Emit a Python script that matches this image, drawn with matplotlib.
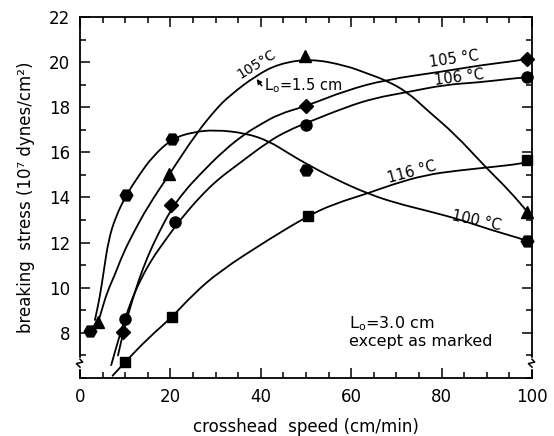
import matplotlib
matplotlib.use("Agg")
import matplotlib.pyplot as plt
from matplotlib.ticker import MultipleLocator
from matplotlib.path import Path
from matplotlib.patches import PathPatch

plt.rcParams['font.family'] = ['DejaVu Sans']

# ---- measured points ----
hex_x = [2.2, 10.2, 20.3, 50.1, 99.0]          # 100 C
hex_y = [8.1, 14.1, 16.6, 15.2, 12.05]
tri_x = [4.0, 19.8, 49.8, 99.0]                # 105 C, Lo = 1.5 cm
tri_y = [8.47, 15.06, 20.27, 13.36]
dia_x = [9.6, 20.1, 50.0, 99.0]                # 105 C
dia_y = [8.05, 13.67, 18.05, 20.15]
cir_x = [9.9, 21.0, 50.0, 99.0]                # 106 C
cir_y = [8.6, 12.9, 17.23, 19.33]
sq_x = [10.0, 20.3, 50.4, 99.0]                # 116 C
sq_y = [6.71, 8.69, 13.18, 15.64]

# ---- hand-drawn smooth curves (guide points) ----
hexc_x = [3.3, 4.4, 5.3, 6.3, 7.8, 10.2, 13.1, 16.0, 20.3, 24.9, 30.0, 36.7, 41.8, 46.2, 50.0, 56.6, 63.9, 70.0, 76.4, 83.8, 91.1, 97.7, 99.0]
hexc_y = [8.57, 9.6, 10.8, 12.1, 13.1, 14.1, 15.0, 15.8, 16.6, 16.9, 17.0, 16.85, 16.5, 15.95, 15.5, 14.8, 14.15, 13.75, 13.43, 13.04, 12.55, 12.17, 12.05]
tric_x = [4.2, 4.8, 6.0, 7.7, 9.5, 11.8, 15.0, 20.0, 25.6, 30.0, 33.0, 38.9, 44.0, 51.0, 58.8, 63.5, 67.6, 72.4, 77.2, 83.0, 89.7, 95.0, 99.0]
tric_y = [8.6, 9.0, 9.8, 10.57, 11.5, 12.43, 13.6, 15.1, 16.8, 17.9, 18.5, 19.4, 19.93, 20.15, 19.85, 19.5, 19.2, 18.68, 17.8, 16.8, 15.35, 14.3, 13.36]
diac_x = [8.4, 9.6, 11.2, 13.0, 15.0, 17.2, 20.1, 23.0, 26.4, 31.9, 36.7, 39.6, 44.0, 50.0, 58.8, 67.6, 80.8, 88.2, 97.0, 99.0]
diac_y = [7.0, 8.05, 9.2, 10.35, 11.4, 12.35, 13.45, 14.25, 15.0, 16.1, 16.85, 17.2, 17.7, 18.05, 18.74, 19.22, 19.6, 19.85, 20.07, 20.15]
circ_x = [6.9, 8.5, 9.9, 11.5, 13.5, 16.0, 18.5, 21.0, 24.0, 27.1, 30.5, 34.5, 41.8, 46.2, 50.0, 58.8, 65.0, 72.4, 80.8, 88.2, 95.5, 99.0]
circ_y = [6.57, 7.7, 8.6, 9.5, 10.4, 11.3, 12.0, 12.7, 13.45, 14.14, 14.8, 15.4, 16.5, 16.98, 17.3, 18.0, 18.4, 18.67, 19.0, 19.1, 19.27, 19.33]
sqc_x = [7.2, 10.0, 15.0, 20.3, 25.0, 30.8, 41.8, 50.4, 56.0, 63.9, 69.0, 76.4, 83.8, 91.1, 97.7, 99.0]
sqc_y = [6.1, 6.71, 7.75, 8.69, 9.7, 10.72, 12.15, 13.18, 13.7, 14.2, 14.57, 15.0, 15.2, 15.35, 15.5, 15.6]

x_ticks = [0, 20, 40, 60, 80, 100]
y_ticks = [8, 10, 12, 14, 16, 18, 20, 22]


def smooth_path(xs, ys):
    """Quadratic B-spline style path through the midpoints of the guide points."""
    pts = list(zip(xs, ys))
    verts = [pts[0]]
    codes = [Path.MOVETO]
    m = ((pts[0][0] + pts[1][0]) / 2, (pts[0][1] + pts[1][1]) / 2)
    verts.append(m)
    codes.append(Path.LINETO)
    for i in range(1, len(pts) - 1):
        nxt = ((pts[i][0] + pts[i + 1][0]) / 2, (pts[i][1] + pts[i + 1][1]) / 2)
        verts += [pts[i], nxt]
        codes += [Path.CURVE3, Path.CURVE3]
    verts.append(pts[-1])
    codes.append(Path.LINETO)
    return Path(verts, codes)


fig = plt.figure(figsize=(5.54, 4.36), dpi=100)
ax = fig.add_axes([80/554, 58/436, 452/554, 361/436])

lw = 1.3
for cx, cy in [(hexc_x, hexc_y), (tric_x, tric_y), (diac_x, diac_y), (circ_x, circ_y), (sqc_x, sqc_y)]:
    ax.add_patch(PathPatch(smooth_path(cx, cy), facecolor='none', edgecolor='black', lw=lw,
                           capstyle='round', joinstyle='round', zorder=2))

ax.plot(hex_x, hex_y, 'H', color='black', ms=9, ls='none', zorder=3, clip_on=False)
ax.plot(tri_x, tri_y, '^', color='black', ms=8, ls='none', zorder=3, clip_on=False)
ax.plot(dia_x, dia_y, 'D', color='black', ms=7, ls='none', zorder=3, clip_on=False)
ax.plot(cir_x, cir_y, 'o', color='black', ms=8, ls='none', zorder=3, clip_on=False)
ax.plot(sq_x, sq_y, 's', color='black', ms=7.5, ls='none', zorder=3, clip_on=False)

ax.set_xlim(0, 100)
ax.set_ylim(6, 22)
ax.set_xticks(x_ticks)
ax.set_yticks(y_ticks)
ax.xaxis.set_minor_locator(MultipleLocator(5))
ax.yaxis.set_minor_locator(MultipleLocator(1))
ax.tick_params(which='both', direction='in', top=True, right=True, width=1.1)
ax.tick_params(which='major', length=7, labelsize=12, pad=7)
ax.tick_params(which='minor', length=4)
for s in ax.spines.values():
    s.set_linewidth(1.3)

ax.set_xlabel('crosshead  speed (cm/min)', fontsize=12, labelpad=9)
ax.set_ylabel('breaking  stress (10\u2077 dynes/cm\u00b2)', fontsize=12, labelpad=10)

# annotations
ax.text(39.0, 19.9, '105\u00b0C', fontsize=10, rotation=32, ha='center', va='center')
ax.annotate('', xy=(38.7, 19.35), xytext=(40.6, 18.85),
            arrowprops=dict(arrowstyle='-|>', lw=1, color='black', mutation_scale=7))
ax.text(40.6, 18.95, r'L$_{\rm o}$=1.5 cm', fontsize=10.5, ha='left', va='center')
ax.text(82.8, 20.15, '105 \u00b0C', fontsize=10.5, rotation=8, ha='center', va='center')
ax.text(83.9, 19.3, '106 \u00b0C', fontsize=10.5, rotation=7, ha='center', va='center')
ax.text(73.4, 15.1, '116 \u00b0C', fontsize=10.5, rotation=15, ha='center', va='center')
ax.text(87.8, 12.95, '100 \u00b0C', fontsize=10.5, rotation=-12, ha='center', va='center')
ax.text(59.6, 8.4, r'L$_{\rm o}$=3.0 cm', fontsize=11.5, ha='left', va='center')
ax.text(59.6, 7.6, 'except as marked', fontsize=11.5, ha='left', va='center')

# axis break marks on both vertical spines
for x0 in (0.0, 1.0):
    ax.plot([x0, x0], [0.030, 0.052], color='white', lw=2.5, transform=ax.transAxes, clip_on=False, zorder=5)
    ax.plot([x0, x0 - 0.008, x0 + 0.006, x0], [0.030, 0.040, 0.044, 0.052], color='black', lw=1.1,
            transform=ax.transAxes, clip_on=False, zorder=6)

fig.savefig('out.png', dpi=100)
